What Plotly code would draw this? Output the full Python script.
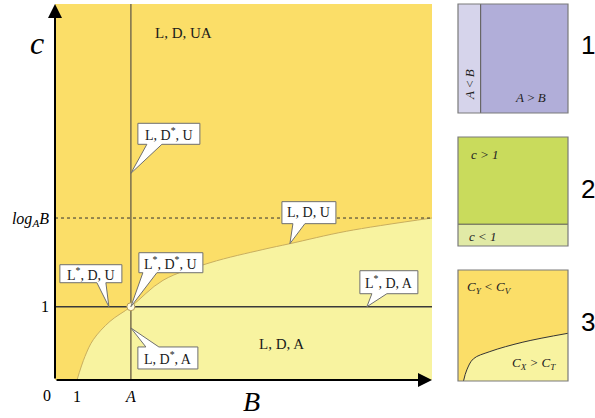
import plotly.graph_objects as go

W, H = 595, 418

# ---------------- main diagram: B (horizontal) vs c (vertical) ----------------
A_VAL = 3.45          # position of A on the B axis
B_MAX = 17.14         # right end of the B axis
C_MAX = 5.13          # top end of the c axis
LOG_A_B = 2.21        # level of log_A(B) at the right edge

# boundary between the two regimes (passes through (1, 0) and (A, 1))
B_curve = [1.0, 1.36, 1.74, 2.5, 3.45, 4.91, 7.05, 9.45, 10.68, 13.26, 17.14]
c_curve = [0.0, 0.32, 0.55, 0.80, 1.0, 1.36, 1.60, 1.78, 1.86, 2.03, 2.21]

x_tick_vals = [1, A_VAL]
x_tick_text = ["1", "<i>A</i>"]
y_tick_vals = [1, LOG_A_B]
y_tick_text = ["1", "<i>log<sub>A</sub>B</i>"]

region_labels = ["L, D, UA", "L, D, A"]
region_B = [5.86, 10.32]
region_c = [4.73, 0.49]

callout_labels = [
    "L, D<sup>*</sup>, U",
    "L<sup>*</sup>, D, U",
    "L<sup>*</sup>, D<sup>*</sup>, U",
    "L, D<sup>*</sup>, A",
    "L, D, U",
    "L<sup>*</sup>, D, A",
]
callout_B = [A_VAL, 2.45, A_VAL, A_VAL, 10.68, 14.18]
callout_c = [2.82, 1.0, 1.0, 0.71, 1.86, 1.0]

# ---------------- key panels ----------------
panel1_split = 0.206            # A<B strip width (fraction)
panel2_split = 0.20             # c<1 band height (fraction)
panel3_x = [0.05, 0.08, 0.14, 0.29, 0.59, 1.0]
panel3_y = [0.0, 0.10, 0.20, 0.265, 0.35, 0.43]

DARK_Y = "#FBDE68"
LIGHT_Y = "#F8F3A0"
EDGE = "#7a7a7a"
SERIF = "Liberation Serif, Times New Roman, serif"
SANS = "Liberation Sans, Arial, sans-serif"


def px_x(p):
    return p / W


def px_y(p):
    return 1 - p / H


fig = go.Figure()

# light region under the boundary
fig.add_trace(go.Scatter(
    x=B_curve, y=c_curve, mode="lines", fill="tozeroy",
    fillcolor=LIGHT_Y, line=dict(color="#C9AE5E", width=1, shape="spline"),
    hoverinfo="skip", showlegend=False))

# vertical line at A
fig.add_trace(go.Scatter(
    x=[A_VAL, A_VAL], y=[0, C_MAX], mode="lines",
    line=dict(color="#7a6f4e", width=1.5), hoverinfo="skip", showlegend=False))
# horizontal line at c = 1
fig.add_trace(go.Scatter(
    x=[0, B_MAX], y=[1, 1], mode="lines",
    line=dict(color="#3a3a3a", width=1.5), hoverinfo="skip", showlegend=False))
# dotted level log_A B
fig.add_trace(go.Scatter(
    x=[0, B_MAX], y=[LOG_A_B, LOG_A_B], mode="lines",
    line=dict(color="#333333", width=1, dash="dot"), hoverinfo="skip", showlegend=False))
# point (A, 1)
fig.add_trace(go.Scatter(
    x=[A_VAL], y=[1], mode="markers",
    marker=dict(size=8, color="#FFFBE3", line=dict(color="#B59A55", width=1)),
    hoverinfo="skip", showlegend=False))

# region labels
for txt, bx, cy in zip(region_labels, region_B, region_c):
    fig.add_annotation(x=bx, y=cy, xref="x", yref="y", text=txt, showarrow=False,
                       xanchor="center", yanchor="middle",
                       font=dict(family=SERIF, size=15, color="#1a1a1a"))

# speech-bubble callouts: box offsets in pixels relative to the tip
bubble_geom = [
    dict(l=7, r=69, b=29, t=50, p0=16, p1=31),
    dict(l=-49, r=13, b=24, t=42, p0=-12, p1=-3),
    dict(l=8, r=72, b=34, t=54, p0=12, p1=26),
    dict(l=7, r=67, b=-41, t=-19, p0=15, p1=28),
    dict(l=-8, r=46, b=20, t=42, p0=3, p1=15),
    dict(l=-7, r=51, b=13, t=36, p0=5, p1=20),
]
for txt, bx, cy, g in zip(callout_labels, callout_B, callout_c, bubble_geom):
    if g["b"] > 0:
        near, far = g["b"], g["t"]
    else:
        near, far = g["t"], g["b"]
    path = (f"M {g['l']},{near} L {g['p0']},{near} L 0,0 L {g['p1']},{near} "
            f"L {g['r']},{near} L {g['r']},{far} L {g['l']},{far} Z")
    fig.add_shape(type="path", path=path, xref="x", yref="y",
                  xsizemode="pixel", ysizemode="pixel", xanchor=bx, yanchor=cy,
                  fillcolor="white", line=dict(color="#6f6f6f", width=1), layer="above")
    fig.add_annotation(x=bx, y=cy, xref="x", yref="y", text=txt, showarrow=False,
                       xanchor="center", yanchor="middle",
                       xshift=(g["l"] + g["r"]) / 2, yshift=(g["b"] + g["t"]) / 2,
                       font=dict(family=SERIF, size=14, color="#1a1a1a"))

# axis arrows
fig.add_annotation(x=B_MAX, y=0, ax=0, ay=0, xref="x", yref="y", axref="x", ayref="y",
                   text="", showarrow=True, arrowhead=2, arrowsize=1.4,
                   arrowwidth=2, arrowcolor="black")
fig.add_annotation(x=0, y=C_MAX, ax=0, ay=0, xref="x", yref="y", axref="x", ayref="y",
                   text="", showarrow=True, arrowhead=2, arrowsize=1.4,
                   arrowwidth=2, arrowcolor="black")


def paper_text(px, py, txt, family, size, angle=0):
    fig.add_annotation(x=px_x(px), y=px_y(py), xref="paper", yref="paper", text=txt,
                       showarrow=False, xanchor="center", yanchor="middle",
                       textangle=angle, font=dict(family=family, size=size, color="black"))


# axis titles and origin
paper_text(37, 43, "<i>c</i>", SERIF, 32)
paper_text(251, 401, "<i>B</i>", SERIF, 28)
paper_text(47, 395, "0", SERIF, 16)

# ---------------- key panels ----------------
# panel 1: A<B / A>B
fig.add_shape(type="rect", xref="x2", yref="y2", x0=0, x1=panel1_split, y0=0, y1=1,
              fillcolor="#D6D4EB", line=dict(width=0))
fig.add_shape(type="rect", xref="x2", yref="y2", x0=panel1_split, x1=1, y0=0, y1=1,
              fillcolor="#B1AED9", line=dict(width=0))
fig.add_shape(type="line", xref="x2", yref="y2", x0=panel1_split, x1=panel1_split, y0=0, y1=1,
              line=dict(color="#555555", width=1))
fig.add_annotation(x=panel1_split / 2, y=0.26, xref="x2", yref="y2", text="<i>A</i> < <i>B</i>",
                   textangle=-90, showarrow=False, xanchor="center", yanchor="middle",
                   font=dict(family=SERIF, size=13, color="#222"))
fig.add_annotation(x=0.655, y=0.14, xref="x2", yref="y2", text="<i>A</i> > <i>B</i>",
                   showarrow=False, xanchor="center", yanchor="middle",
                   font=dict(family=SERIF, size=13, color="#222"))

# panel 2: c>1 / c<1
fig.add_shape(type="rect", xref="x3", yref="y3", x0=0, x1=1, y0=panel2_split, y1=1,
              fillcolor="#C9DB5C", line=dict(width=0))
fig.add_shape(type="rect", xref="x3", yref="y3", x0=0, x1=1, y0=0, y1=panel2_split,
              fillcolor="#E1EAA6", line=dict(width=0))
fig.add_shape(type="line", xref="x3", yref="y3", x0=0, x1=1, y0=panel2_split, y1=panel2_split,
              line=dict(color="#555555", width=1))
fig.add_annotation(x=0.245, y=0.835, xref="x3", yref="y3", text="<i>c > 1</i>",
                   showarrow=False, xanchor="center", yanchor="middle",
                   font=dict(family=SERIF, size=13, color="#222"))
fig.add_annotation(x=0.23, y=0.09, xref="x3", yref="y3", text="<i>c < 1</i>",
                   showarrow=False, xanchor="center", yanchor="middle",
                   font=dict(family=SERIF, size=13, color="#222"))

# panel 3: cost comparison
fig.add_trace(go.Scatter(
    x=panel3_x, y=panel3_y, xaxis="x4", yaxis="y4", mode="lines", fill="tozeroy",
    fillcolor=LIGHT_Y, line=dict(color="#333333", width=1, shape="spline"),
    hoverinfo="skip", showlegend=False))
fig.add_annotation(x=0.29, y=0.84, xref="x4", yref="y4",
                   text="<i>C<sub>Y</sub> < C<sub>V</sub></i>",
                   showarrow=False, xanchor="center", yanchor="middle",
                   font=dict(family=SERIF, size=13, color="#222"))
fig.add_annotation(x=0.69, y=0.16, xref="x4", yref="y4",
                   text="<i>C<sub>X</sub> > C<sub>T</sub></i>",
                   showarrow=False, xanchor="center", yanchor="middle",
                   font=dict(family=SERIF, size=13, color="#222"))

# panel borders and numbers
for ax in ["2", "3", "4"]:
    fig.add_shape(type="rect", xref=f"x{ax} domain", yref=f"y{ax} domain",
                  x0=0, x1=1, y0=0, y1=1, line=dict(color=EDGE, width=1.2),
                  fillcolor="rgba(0,0,0,0)", layer="above")
for num, py in zip(["1", "2", "3"], [45, 189, 322]):
    paper_text(588, py, num, SANS, 26)

hidden = dict(visible=False, range=[0, 1], fixedrange=True)
fig.update_layout(
    width=W, height=H, margin=dict(l=0, r=0, t=0, b=0),
    paper_bgcolor="white", plot_bgcolor=DARK_Y, showlegend=False,
    xaxis=dict(domain=[px_x(55), px_x(432)], range=[0, B_MAX], showgrid=False,
               zeroline=False, showline=False, ticks="", tickvals=x_tick_vals,
               ticktext=x_tick_text, ticklabelstandoff=5,
               tickfont=dict(family=SERIF, size=16, color="black")),
    yaxis=dict(domain=[px_y(380), px_y(4)], range=[0, C_MAX], showgrid=False,
               zeroline=False, showline=False, ticks="", tickvals=y_tick_vals,
               ticktext=y_tick_text, ticklabelstandoff=5,
               tickfont=dict(family=SERIF, size=16, color="black")),
    xaxis2=dict(domain=[px_x(458), px_x(568)], anchor="y2", **hidden),
    yaxis2=dict(domain=[px_y(113), px_y(4)], anchor="x2", **hidden),
    xaxis3=dict(domain=[px_x(458), px_x(568)], anchor="y3", **hidden),
    yaxis3=dict(domain=[px_y(246), px_y(137)], anchor="x3", **hidden),
    xaxis4=dict(domain=[px_x(458), px_x(568)], anchor="y4", **hidden),
    yaxis4=dict(domain=[px_y(381), px_y(270)], anchor="x4", **hidden),
)

fig.write_html("out.html")
